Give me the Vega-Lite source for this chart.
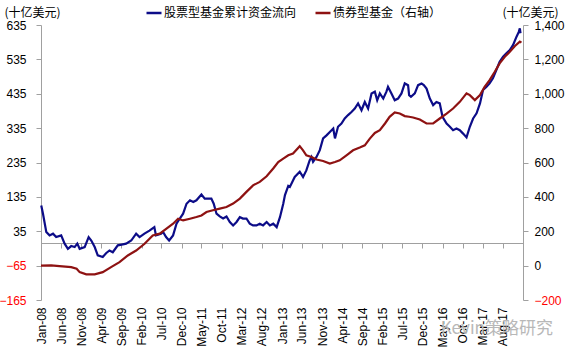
{
  "$schema": "https://vega.github.io/schema/vega-lite/v6.json",
  "width": 482,
  "height": 275,
  "autosize": {"type": "none"},
  "padding": {"left": 41, "top": 25, "right": 48, "bottom": 51},
  "background": "white",
  "title": {"text": "Kevin策略研究", "orient": "bottom", "anchor": "end", "frame": "group", "color": "#b8b8b8", "fontSize": 17, "font": "Noto Sans CJK SC", "fontWeight": "normal", "dx": 30, "dy": -30},
  "config": {
    "view": {"stroke": null},
    "font": "Liberation Sans",
    "axis": {"grid": false, "domainColor": "#a0a0a0", "tickColor": "#a0a0a0", "labelFont": "Liberation Sans", "labelFontSize": 12, "labelColor": "black"}
  },
  "datasets": {
    "stock": [
      {"d": "2008-01-03", "v": 110}, {"d": "2008-01-16", "v": 86}, {"d": "2008-02-10", "v": 33}, {"d": "2008-03-06", "v": 23},
      {"d": "2008-04-01", "v": 28}, {"d": "2008-04-25", "v": 18}, {"d": "2008-06-02", "v": 23}, {"d": "2008-06-28", "v": -1},
      {"d": "2008-07-23", "v": -16}, {"d": "2008-08-17", "v": -8}, {"d": "2008-09-12", "v": -11}, {"d": "2008-10-02", "v": -1},
      {"d": "2008-10-20", "v": -16}, {"d": "2008-11-27", "v": -11}, {"d": "2008-12-27", "v": 18}, {"d": "2009-01-16", "v": 8},
      {"d": "2009-02-11", "v": -11}, {"d": "2009-03-06", "v": -35}, {"d": "2009-04-13", "v": -40}, {"d": "2009-05-08", "v": -29},
      {"d": "2009-06-03", "v": -21}, {"d": "2009-06-28", "v": -26}, {"d": "2009-08-05", "v": -6}, {"d": "2009-09-12", "v": -3},
      {"d": "2009-10-07", "v": -1}, {"d": "2009-11-15", "v": 8}, {"d": "2009-12-22", "v": 28}, {"d": "2010-01-17", "v": 18},
      {"d": "2010-02-23", "v": 28}, {"d": "2010-04-02", "v": 37}, {"d": "2010-05-09", "v": 47}, {"d": "2010-05-21", "v": 23},
      {"d": "2010-06-29", "v": 28}, {"d": "2010-07-14", "v": 33}, {"d": "2010-08-06", "v": 18}, {"d": "2010-08-29", "v": 8},
      {"d": "2010-09-28", "v": 23}, {"d": "2010-10-24", "v": 57}, {"d": "2010-11-18", "v": 72}, {"d": "2010-12-13", "v": 86},
      {"d": "2011-01-08", "v": 115}, {"d": "2011-02-03", "v": 125}, {"d": "2011-02-28", "v": 120}, {"d": "2011-03-24", "v": 125},
      {"d": "2011-05-01", "v": 142}, {"d": "2011-05-26", "v": 130}, {"d": "2011-06-20", "v": 130}, {"d": "2011-07-15", "v": 130},
      {"d": "2011-08-02", "v": 115}, {"d": "2011-08-23", "v": 86}, {"d": "2011-09-17", "v": 78}, {"d": "2011-10-12", "v": 72},
      {"d": "2011-11-07", "v": 78}, {"d": "2011-12-02", "v": 62}, {"d": "2011-12-27", "v": 52}, {"d": "2012-01-22", "v": 62},
      {"d": "2012-02-16", "v": 76}, {"d": "2012-03-11", "v": 72}, {"d": "2012-04-06", "v": 72}, {"d": "2012-05-01", "v": 57},
      {"d": "2012-05-26", "v": 52}, {"d": "2012-06-21", "v": 52}, {"d": "2012-07-16", "v": 57}, {"d": "2012-08-10", "v": 52},
      {"d": "2012-09-06", "v": 62}, {"d": "2012-10-01", "v": 52}, {"d": "2012-10-26", "v": 57}, {"d": "2012-11-21", "v": 47},
      {"d": "2012-12-16", "v": 76}, {"d": "2013-01-10", "v": 115}, {"d": "2013-01-23", "v": 140}, {"d": "2013-02-17", "v": 167},
      {"d": "2013-03-01", "v": 164}, {"d": "2013-04-07", "v": 193}, {"d": "2013-05-15", "v": 208}, {"d": "2013-06-09", "v": 193},
      {"d": "2013-07-04", "v": 212}, {"d": "2013-07-29", "v": 241}, {"d": "2013-08-12", "v": 251}, {"d": "2013-08-24", "v": 237},
      {"d": "2013-09-19", "v": 251}, {"d": "2013-10-14", "v": 271}, {"d": "2013-11-08", "v": 305}, {"d": "2013-12-04", "v": 314},
      {"d": "2013-12-29", "v": 324}, {"d": "2014-01-24", "v": 334}, {"d": "2014-02-06", "v": 305}, {"d": "2014-03-01", "v": 339},
      {"d": "2014-03-27", "v": 348}, {"d": "2014-04-21", "v": 363}, {"d": "2014-05-16", "v": 373}, {"d": "2014-06-11", "v": 382},
      {"d": "2014-07-06", "v": 392}, {"d": "2014-07-31", "v": 407}, {"d": "2014-08-26", "v": 387}, {"d": "2014-09-20", "v": 411},
      {"d": "2014-10-15", "v": 392}, {"d": "2014-11-10", "v": 436}, {"d": "2014-12-05", "v": 441}, {"d": "2014-12-23", "v": 416},
      {"d": "2015-01-12", "v": 436}, {"d": "2015-02-07", "v": 421}, {"d": "2015-03-03", "v": 441}, {"d": "2015-03-15", "v": 455},
      {"d": "2015-04-10", "v": 436}, {"d": "2015-05-05", "v": 416}, {"d": "2015-05-30", "v": 421}, {"d": "2015-06-25", "v": 436},
      {"d": "2015-07-20", "v": 465}, {"d": "2015-08-14", "v": 460}, {"d": "2015-08-22", "v": 431}, {"d": "2015-09-05", "v": 426},
      {"d": "2015-10-04", "v": 436}, {"d": "2015-10-29", "v": 460}, {"d": "2015-11-24", "v": 465}, {"d": "2015-12-11", "v": 460},
      {"d": "2016-01-01", "v": 450}, {"d": "2016-01-26", "v": 421}, {"d": "2016-02-20", "v": 402}, {"d": "2016-03-16", "v": 411},
      {"d": "2016-04-10", "v": 407}, {"d": "2016-05-01", "v": 368}, {"d": "2016-06-01", "v": 348}, {"d": "2016-06-26", "v": 339},
      {"d": "2016-07-20", "v": 329}, {"d": "2016-08-15", "v": 334}, {"d": "2016-09-09", "v": 329}, {"d": "2016-10-04", "v": 319},
      {"d": "2016-10-30", "v": 308}, {"d": "2016-11-24", "v": 339}, {"d": "2016-12-19", "v": 363}, {"d": "2017-01-14", "v": 378},
      {"d": "2017-02-09", "v": 407}, {"d": "2017-03-04", "v": 446}, {"d": "2017-03-29", "v": 455}, {"d": "2017-04-23", "v": 465},
      {"d": "2017-05-18", "v": 480}, {"d": "2017-06-13", "v": 504}, {"d": "2017-07-08", "v": 528}, {"d": "2017-08-03", "v": 543},
      {"d": "2017-08-28", "v": 553}, {"d": "2017-09-23", "v": 562}, {"d": "2017-10-18", "v": 577}, {"d": "2017-11-13", "v": 601},
      {"d": "2017-11-30", "v": 615}, {"d": "2017-12-08", "v": 625}, {"d": "2017-12-13", "v": 611}
    ],
    "bond": [
      {"d": "2008-01-01", "v": 0}, {"d": "2008-03-18", "v": 1}, {"d": "2008-05-20", "v": -3}, {"d": "2008-08-17", "v": -9},
      {"d": "2008-09-27", "v": -18}, {"d": "2008-10-20", "v": -38}, {"d": "2008-12-09", "v": -51}, {"d": "2009-02-11", "v": -51},
      {"d": "2009-04-13", "v": -38}, {"d": "2009-06-15", "v": -9}, {"d": "2009-08-18", "v": 20}, {"d": "2009-10-20", "v": 59},
      {"d": "2009-12-22", "v": 88}, {"d": "2010-02-24", "v": 127}, {"d": "2010-04-27", "v": 176}, {"d": "2010-06-19", "v": 186},
      {"d": "2010-08-09", "v": 215}, {"d": "2010-09-28", "v": 244}, {"d": "2010-11-05", "v": 273}, {"d": "2010-12-13", "v": 263},
      {"d": "2011-02-03", "v": 273}, {"d": "2011-03-24", "v": 283}, {"d": "2011-05-01", "v": 292}, {"d": "2011-06-08", "v": 312},
      {"d": "2011-07-27", "v": 322}, {"d": "2011-09-17", "v": 332}, {"d": "2011-11-07", "v": 341}, {"d": "2011-12-27", "v": 361},
      {"d": "2012-02-16", "v": 390}, {"d": "2012-04-06", "v": 429}, {"d": "2012-05-26", "v": 467}, {"d": "2012-07-16", "v": 487},
      {"d": "2012-09-06", "v": 520}, {"d": "2012-10-26", "v": 565}, {"d": "2012-12-03", "v": 603}, {"d": "2013-01-10", "v": 623},
      {"d": "2013-02-17", "v": 642}, {"d": "2013-03-25", "v": 652}, {"d": "2013-05-15", "v": 695}, {"d": "2013-06-09", "v": 671},
      {"d": "2013-07-04", "v": 642}, {"d": "2013-08-12", "v": 632}, {"d": "2013-09-19", "v": 617}, {"d": "2013-11-08", "v": 609},
      {"d": "2013-12-29", "v": 594}, {"d": "2014-02-06", "v": 603}, {"d": "2014-03-14", "v": 613}, {"d": "2014-05-04", "v": 642},
      {"d": "2014-06-23", "v": 671}, {"d": "2014-08-13", "v": 687}, {"d": "2014-09-20", "v": 700}, {"d": "2014-10-28", "v": 739},
      {"d": "2014-12-05", "v": 772}, {"d": "2015-01-12", "v": 788}, {"d": "2015-02-20", "v": 827}, {"d": "2015-03-27", "v": 866},
      {"d": "2015-05-05", "v": 891}, {"d": "2015-06-12", "v": 885}, {"d": "2015-07-20", "v": 870}, {"d": "2015-08-22", "v": 866},
      {"d": "2015-09-21", "v": 862}, {"d": "2015-11-11", "v": 850}, {"d": "2016-01-01", "v": 827}, {"d": "2016-02-20", "v": 827},
      {"d": "2016-04-10", "v": 856}, {"d": "2016-06-01", "v": 885}, {"d": "2016-07-20", "v": 914}, {"d": "2016-09-09", "v": 953},
      {"d": "2016-10-30", "v": 1002}, {"d": "2016-11-24", "v": 992}, {"d": "2017-01-01", "v": 963}, {"d": "2017-02-09", "v": 992},
      {"d": "2017-03-16", "v": 1040}, {"d": "2017-04-23", "v": 1079}, {"d": "2017-06-01", "v": 1128}, {"d": "2017-07-08", "v": 1177},
      {"d": "2017-08-16", "v": 1215}, {"d": "2017-09-23", "v": 1244}, {"d": "2017-11-01", "v": 1278}, {"d": "2017-12-08", "v": 1303},
      {"d": "2017-12-20", "v": 1297}
    ]
  },
  "layer": [
    {
      "data": {"name": "stock"},
      "mark": {"type": "line", "strokeWidth": 2.2},
      "encoding": {
        "x": {
          "field": "d", "type": "temporal",
          "scale": {"domain": [{"year": 2008, "month": 1, "date": 1}, {"year": 2018, "month": 1, "date": 1}]},
          "axis": {
            "orient": "bottom", "title": null, "format": "%b-%y", "labelAngle": -90, "domain": false, "ticks": false,
            "labelPadding": 7, "labelFlush": false, "labelOverlap": false, "labelBound": false,
            "values": [
              {"year": 2008, "month": 1, "date": 1}, {"year": 2008, "month": 6, "date": 1}, {"year": 2008, "month": 11, "date": 1},
              {"year": 2009, "month": 4, "date": 1}, {"year": 2009, "month": 9, "date": 1}, {"year": 2010, "month": 2, "date": 1},
              {"year": 2010, "month": 7, "date": 1}, {"year": 2010, "month": 12, "date": 1}, {"year": 2011, "month": 5, "date": 1},
              {"year": 2011, "month": 10, "date": 1}, {"year": 2012, "month": 3, "date": 1}, {"year": 2012, "month": 8, "date": 1},
              {"year": 2013, "month": 1, "date": 1}, {"year": 2013, "month": 6, "date": 1}, {"year": 2013, "month": 11, "date": 1},
              {"year": 2014, "month": 4, "date": 1}, {"year": 2014, "month": 9, "date": 1}, {"year": 2015, "month": 2, "date": 1},
              {"year": 2015, "month": 7, "date": 1}, {"year": 2015, "month": 12, "date": 1}, {"year": 2016, "month": 5, "date": 1},
              {"year": 2016, "month": 10, "date": 1}, {"year": 2017, "month": 3, "date": 1}, {"year": 2017, "month": 8, "date": 1}
            ]
          }
        },
        "y": {
          "field": "v", "type": "quantitative",
          "scale": {"domain": [-165, 635], "nice": false, "zero": false},
          "axis": {
            "orient": "left", "values": [-165, -65, 35, 135, 235, 335, 435, 535, 635],
            "tickSize": 5, "labelPadding": 10,
            "labelColor": {"condition": {"test": "datum.value < 0", "value": "#ff0000"}, "value": "black"},
            "title": "(十亿美元)", "titleAngle": 0, "titleX": -37, "titleY": -13, "titleAlign": "left", "titleBaseline": "middle",
            "titleFont": "Noto Sans CJK SC", "titleFontSize": 12, "titleFontWeight": "normal", "titleColor": "black"
          }
        },
        "color": {
          "datum": "股票型基金累计资金流向", "type": "nominal",
          "scale": {"domain": ["股票型基金累计资金流向", "债券型基金（右轴）"], "range": ["#0c0c88", "#8e1212"]},
          "legend": {
            "title": null, "orient": "none", "legendX": 104, "legendY": -21, "direction": "horizontal",
            "symbolType": "stroke", "symbolStrokeWidth": 2.5, "symbolSize": 225, "labelOffset": 1, "columnPadding": 13,
            "labelFont": "Noto Sans CJK SC", "labelFontSize": 12, "labelColor": "black", "labelLimit": 300, "padding": 0
          }
        }
      }
    },
    {
      "data": {"name": "bond"},
      "mark": {"type": "line", "strokeWidth": 2.2},
      "encoding": {
        "x": {
          "field": "d", "type": "temporal",
          "axis": {
            "orient": "bottom", "title": null, "labels": false, "offset": -57, "domain": true, "ticks": true, "tickSize": 5,
            "values": [
              {"year": 2008, "month": 1, "date": 1}, {"year": 2008, "month": 6, "date": 1}, {"year": 2008, "month": 11, "date": 1},
              {"year": 2009, "month": 4, "date": 1}, {"year": 2009, "month": 9, "date": 1}, {"year": 2010, "month": 2, "date": 1},
              {"year": 2010, "month": 7, "date": 1}, {"year": 2010, "month": 12, "date": 1}, {"year": 2011, "month": 5, "date": 1},
              {"year": 2011, "month": 10, "date": 1}, {"year": 2012, "month": 3, "date": 1}, {"year": 2012, "month": 8, "date": 1},
              {"year": 2013, "month": 1, "date": 1}, {"year": 2013, "month": 6, "date": 1}, {"year": 2013, "month": 11, "date": 1},
              {"year": 2014, "month": 4, "date": 1}, {"year": 2014, "month": 9, "date": 1}, {"year": 2015, "month": 2, "date": 1},
              {"year": 2015, "month": 7, "date": 1}, {"year": 2015, "month": 12, "date": 1}, {"year": 2016, "month": 5, "date": 1},
              {"year": 2016, "month": 10, "date": 1}, {"year": 2017, "month": 3, "date": 1}, {"year": 2017, "month": 8, "date": 1}
            ]
          }
        },
        "y": {
          "field": "v", "type": "quantitative",
          "scale": {"domain": [-200, 1400], "nice": false, "zero": false},
          "axis": {
            "orient": "right", "values": [-200, 0, 200, 400, 600, 800, 1000, 1200, 1400], "format": ",d",
            "tickSize": 5, "labelPadding": 6,
            "labelColor": {"condition": {"test": "datum.value < 0", "value": "#ff0000"}, "value": "black"},
            "title": "(十亿美元)", "titleAngle": 0, "titleX": -21, "titleY": -13, "titleAlign": "left", "titleBaseline": "middle",
            "titleFont": "Noto Sans CJK SC", "titleFontSize": 12, "titleFontWeight": "normal", "titleColor": "black"
          }
        },
        "color": {"datum": "债券型基金（右轴）", "type": "nominal"}
      }
    }
  ],
  "resolve": {"scale": {"y": "independent"}, "axis": {"x": "independent"}}
}
